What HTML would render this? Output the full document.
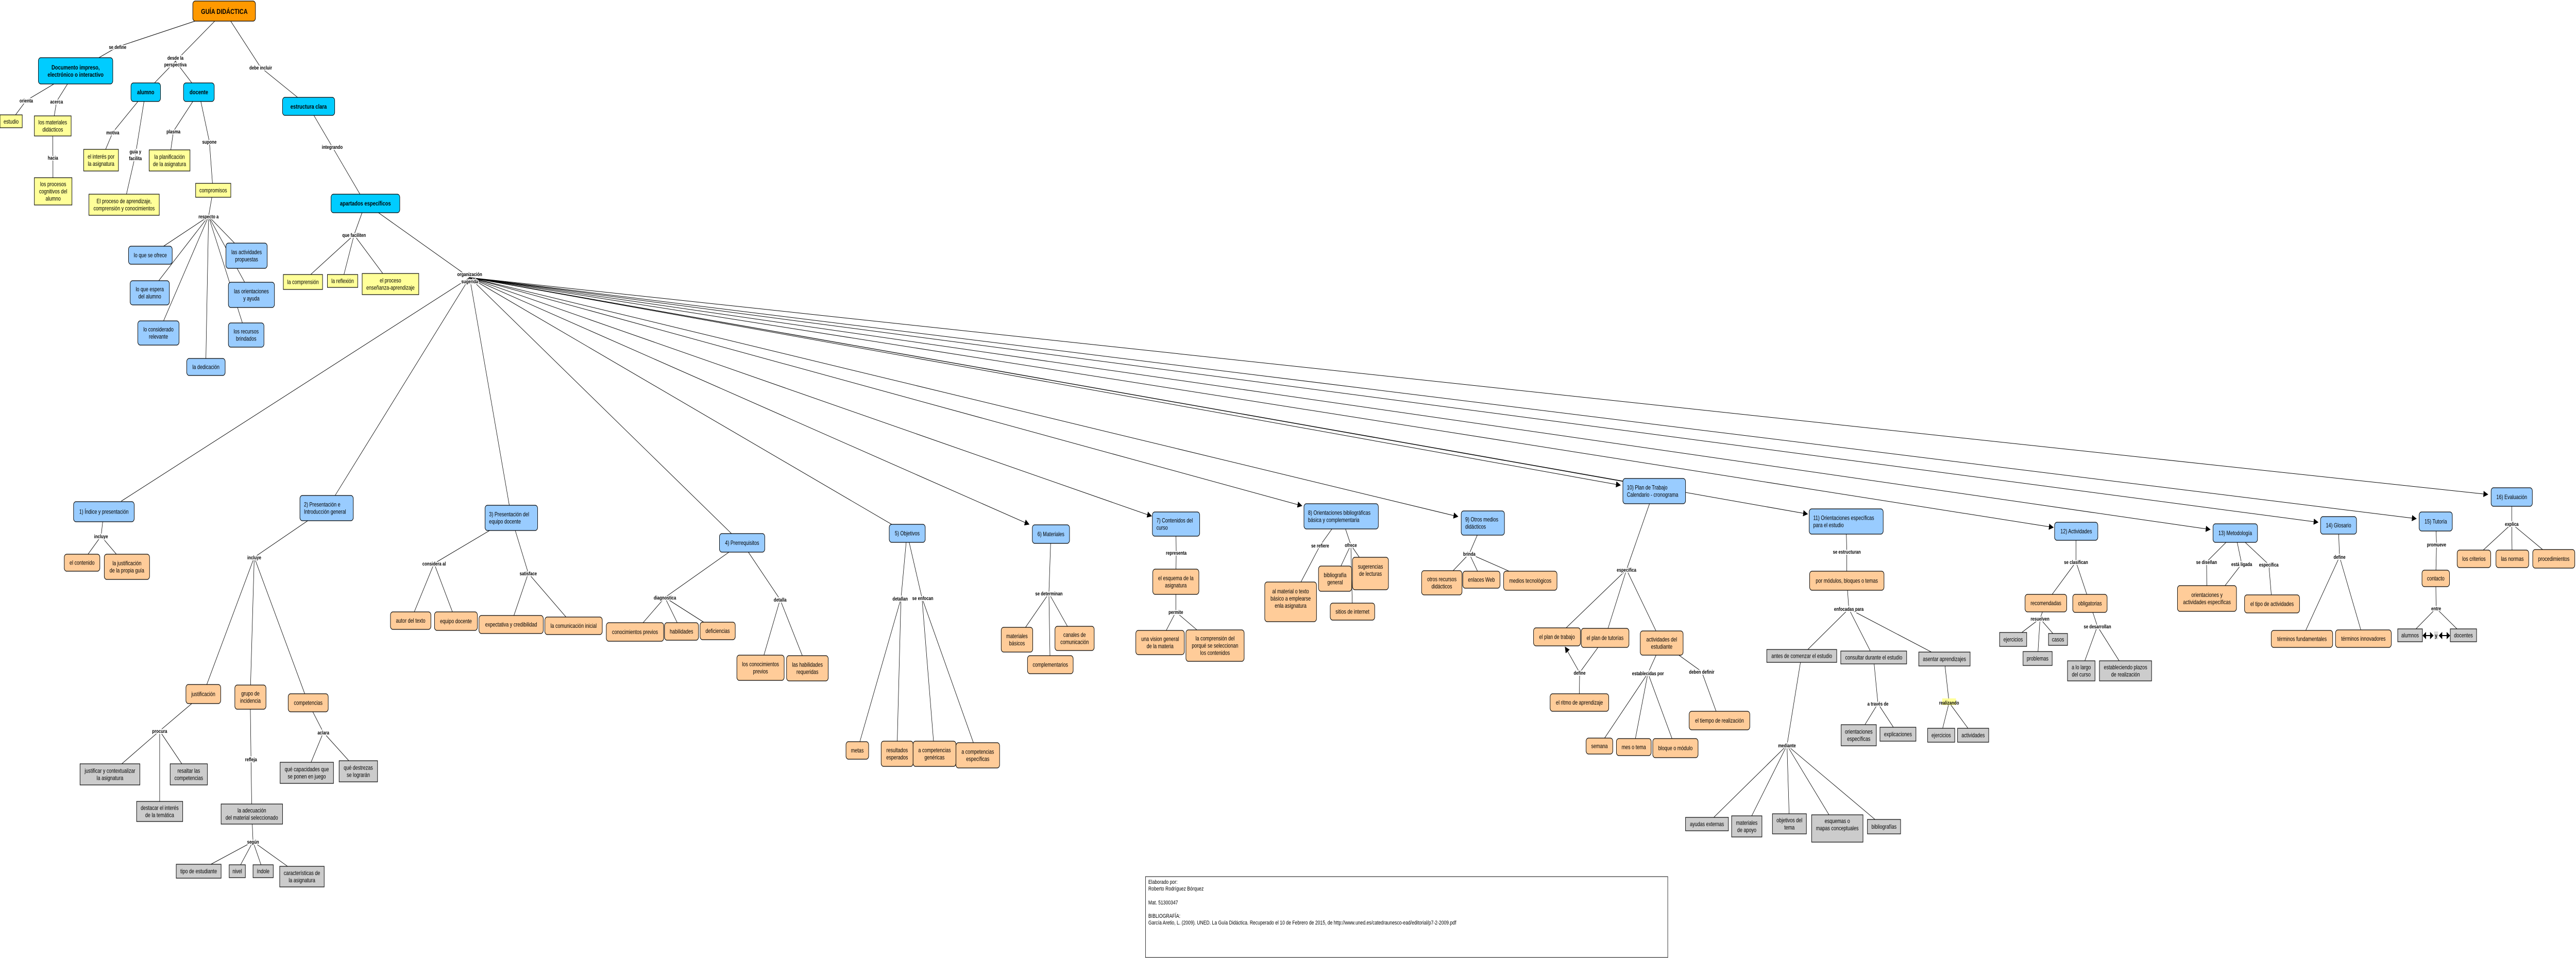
<!DOCTYPE html>
<html><head><meta charset="utf-8"><style>
html,body{margin:0;padding:0;background:#fff;overflow:hidden;width:100%;height:100%;}
svg{display:block;position:absolute;left:0;top:0;width:100vw;height:100vh;font-family:"Liberation Sans",Arial,sans-serif;}
.e{stroke:#000;stroke-width:1;fill:none}
rect{stroke:#000;stroke-width:1.2}
.R{fill:#FF9900}.C{fill:#00CCFF}.B{fill:#99CCFF}.Y{fill:#FFFF99}.P{fill:#FFCC99}.G{fill:#CCCCCC}
text{font-size:11.5px;fill:#000}
.m{text-anchor:middle}
.b{font-weight:bold;font-size:12px}
.l{font-weight:bold;font-size:10px;text-anchor:middle;stroke:#fff;stroke-width:4px;paint-order:stroke;stroke-linejoin:round}
.c{font-size:11px}
</style></head><body>
<svg viewBox="0 0 6373 1860" preserveAspectRatio="none" xmlns="http://www.w3.org/2000/svg">
<defs><marker id="a" markerWidth="12" markerHeight="12" refX="11" refY="6" orient="auto" markerUnits="userSpaceOnUse"><path d="M0,0 L12,6 L0,12 z" fill="#000"/></marker></defs>

<path class="e" d="M555,22 L291,91 L187,138 M555,22 L434,119 L360,179 M434,119 L492,179 M555,22 L645,131 L763,206
M187,138 L65,195 L27,235 M187,138 L140,197 L130,245 L131,306 L131,371
M360,179 L279,257 L250,311 M360,179 L335,301 L307,397 M492,179 L429,255 L419,311
M492,179 L518,275 L527,370 L516,420 L372,495 M516,420 L370,568 M516,420 L392,646 M516,420 L509,712 M516,420 L610,496 M516,420 L622,572 M516,420 L609,650
M763,206 L822,285 L904,395 L876,456 L749,547 M876,456 L847,545 M876,456 L966,551 M904,395 L1162,539
M1162,539 L300,973 M1162,539 L829,962 M1162,539 L1260,981 M1162,539 L1811,1037 M1162,539 L2206,1018
M257,993 L250,1041 L203,1092 M250,1041 L314,1100
M808,986 L629,1082 L503,1347 M629,1082 L619,1353 M629,1082 L762,1364
M503,1347 L395,1419 L272,1503 M395,1419 L467,1503 M395,1419 L395,1575
M619,1353 L621,1474 L623,1580 L626,1634 L491,1691 M626,1634 L587,1691 M626,1634 L651,1691 M626,1634 L747,1702
M762,1364 L800,1422 L759,1500 M800,1422 L886,1497
M1265,1005 L1074,1094 L1016,1205 M1074,1094 L1128,1206 M1265,1005 L1307,1113 L1264,1212 M1307,1113 L1419,1215
M1836,1054 L1645,1160 L1571,1227 M1645,1160 L1686,1226 M1645,1160 L1775,1225 M1836,1054 L1930,1164 L1881,1296 M1930,1164 L1997,1297
M2244,1035 L2229,1162 L2121,1457 M2229,1162 L2219,1463 M2244,1035 L2281,1161 L2312,1463 M2281,1161 L2419,1466
M2600,1037 L2595,1152 L2516,1242 M2595,1152 L2658,1240 M2595,1152 L2598,1290
M2909,1017 L2910,1073 L2909,1129 L2909,1188 L2870,1247 M2909,1188 L3006,1253
M3318,1002 L3266,1059 L3193,1168 M3318,1002 L3342,1058 L3303,1123 M3342,1058 L3390,1113 M3342,1058 L3346,1187
M3668,1015 L3635,1075 L3567,1131 M3635,1075 L3665,1125 M3635,1075 L3786,1127
M4092,953 L4024,1106 L3852,1236 M4024,1106 L3971,1238 M4024,1106 L4111,1248
M3971,1238 L3908,1306 L3907,1364
M4111,1248 L4077,1307 L3957,1448 M4077,1307 L4042,1450 M4077,1307 L4145,1452 M4111,1248 L4210,1304 L4254,1399
M4567,1012 L4569,1071 L4569,1127 L4574,1182 L4457,1273 M4574,1182 L4635,1276 M4574,1182 L4810,1279
M4457,1273 L4421,1447 L4223,1600 M4421,1447 L4321,1604 M4421,1447 L4427,1599 M4421,1447 L4545,1608 M4421,1447 L4660,1605
M4635,1276 L4646,1366 L4598,1427 M4646,1366 L4695,1425 M4810,1279 L4822,1364 L4802,1427 M4822,1364 L4881,1427
M5136,1031 L5136,1091 L5061,1171 M5136,1091 L5170,1171 M5061,1171 L5047,1201 L4980,1241 M5047,1201 L5091,1241 M5047,1201 L5041,1278
M5170,1171 L5189,1216 L5149,1302 M5189,1216 L5258,1302
M5530,1035 L5459,1091 L5460,1162 M5530,1035 L5546,1095 L5480,1162 M5530,1035 L5613,1096 L5621,1172
M5785,1020 L5788,1081 L5695,1240 M5788,1081 L5847,1240
M6026,1012 L6028,1057 L6026,1123 L6027,1181 L5962,1233 M6027,1181 L6094,1233
M6214,965 L6214,1017 L6120,1085 M6214,1017 L6215,1085 M6214,1017 L6318,1085"/>
<g class="e" marker-end="url(#a)">
<line x1="1162" y1="539" x2="2546" y2="1018"/>
<line x1="1162" y1="539" x2="2849" y2="1002"/>
<line x1="1162" y1="539" x2="3221" y2="982"/>
<line x1="1162" y1="539" x2="3607" y2="1003"/>
<line x1="1162" y1="539" x2="4009" y2="942"/>
<line x1="1162" y1="539" x2="4472" y2="998"/>
<line x1="1162" y1="539" x2="5080" y2="1024"/>
<line x1="1162" y1="539" x2="5468" y2="1028"/>
<line x1="1162" y1="539" x2="5735" y2="1014"/>
<line x1="1162" y1="539" x2="5978" y2="1007"/>
<line x1="1162" y1="539" x2="6155" y2="960"/>
<line x1="3908" y1="1306" x2="3872" y2="1256"/>
</g>
<line class="e" x1="1162" y1="539" x2="4015" y2="934"/>

<rect class="R" x="477" y="2" width="155" height="39" rx="6"/><text class="m" x="555" y="27" style="font-weight:bold;font-size:14px">GUÍA DIDÁCTICA</text>
<rect class="C" x="95" y="112" width="184" height="51" rx="6"/><text class="m b" x="187" y="135">Documento impreso,</text><text class="m b" x="187" y="149">electrónico o interactivo</text>
<rect class="C" x="324" y="161" width="73" height="36" rx="6"/><text class="m b" x="360.5" y="183">alumno</text>
<rect class="C" x="454" y="161" width="76" height="36" rx="6"/><text class="m b" x="492" y="183">docente</text>
<rect class="C" x="699" y="189" width="129" height="35" rx="6"/><text class="m b" x="763.5" y="211">estructura clara</text>
<rect class="Y" x="0" y="223" width="55" height="25"/><text class="m" x="27.5" y="240">estudio</text>
<rect class="Y" x="85" y="225" width="91" height="39"/><text class="m" x="130.5" y="241.5">los materiales</text><text class="m" x="130.5" y="255.5">didácticos</text>
<rect class="Y" x="85" y="345" width="93" height="53"/><text class="m" x="131.5" y="361.5">los procesos</text><text class="m" x="131.5" y="375.5">cognitivos del</text><text class="m" x="131.5" y="389.5">alumno</text>
<rect class="Y" x="207" y="290" width="86" height="42"/><text class="m" x="250" y="308">el interés por</text><text class="m" x="250" y="322">la asignatura</text>
<rect class="Y" x="220" y="377" width="174" height="41"/><text class="m" x="307" y="394.5">El proceso de aprendizaje,</text><text class="m" x="307" y="408.5">comprensión y conocimientos</text>
<rect class="Y" x="369" y="291" width="101" height="41"/><text class="m" x="419.5" y="308.5">la planificación</text><text class="m" x="419.5" y="322.5">de la asignatura</text>
<rect class="Y" x="484" y="356" width="87" height="27"/><text class="m" x="527.5" y="373.5">compromisos</text>
<rect class="C" x="819" y="377" width="170" height="36" rx="6"/><text class="m b" x="904" y="399">apartados específicos</text>
<rect class="B" x="318" y="478" width="108" height="35" rx="6"/><text class="m" x="372" y="499.5">lo que se ofrece</text>
<rect class="B" x="322" y="545" width="97" height="47" rx="6"/><text class="m" x="370.5" y="565.5">lo que espera</text><text class="m" x="370.5" y="579.5">del alumno</text>
<rect class="B" x="341" y="623" width="102" height="47" rx="6"/><text class="m" x="392" y="643.5">lo considerado</text><text class="m" x="392" y="657.5">relevante</text>
<rect class="B" x="462" y="696" width="95" height="33" rx="6"/><text class="m" x="509.5" y="716.5">la dedicación</text>
<rect class="B" x="559" y="472" width="102" height="49" rx="6"/><text class="m" x="610" y="493.5">las actividades</text><text class="m" x="610" y="507.5">propuestas</text>
<rect class="B" x="565" y="548" width="114" height="49" rx="6"/><text class="m" x="622" y="569.5">las orientaciones</text><text class="m" x="622" y="583.5">y ayuda</text>
<rect class="B" x="565" y="627" width="88" height="47" rx="6"/><text class="m" x="609" y="647.5">los recursos</text><text class="m" x="609" y="661.5">brindados</text>
<rect class="Y" x="701" y="533" width="97" height="29"/><text class="m" x="749.5" y="551.5">la comprensión</text>
<rect class="Y" x="810" y="533" width="75" height="25"/><text class="m" x="847.5" y="549.5">la reflexión</text>
<rect class="Y" x="896" y="531" width="140" height="41"/><text class="m" x="966" y="548.5">el proceso</text><text class="m" x="966" y="562.5">enseñanza-aprendizaje</text>

<rect class="B" x="182" y="974" width="150" height="39" rx="6"/><text class="m" x="257" y="997.5">1) Índice y presentación</text>
<rect class="P" x="159" y="1076" width="88" height="33" rx="6"/><text class="m" x="203" y="1096.5">el contenido</text>
<rect class="P" x="258" y="1076" width="112" height="49" rx="6"/><text class="m" x="314" y="1097.5">la justificación</text><text class="m" x="314" y="1111.5">de la propia guía</text>
<rect class="B" x="742" y="962" width="132" height="49" rx="6"/><text x="752" y="983.5">2) Presentación e</text><text x="752" y="997.5">Introducción general</text>
<rect class="P" x="460" y="1329" width="86" height="37" rx="6"/><text class="m" x="503" y="1351.5">justificación</text>
<rect class="P" x="581" y="1330" width="77" height="47" rx="6"/><text class="m" x="619.5" y="1350.5">grupo de</text><text class="m" x="619.5" y="1364.5">incidencia</text>
<rect class="P" x="713" y="1347" width="99" height="35" rx="6"/><text class="m" x="762.5" y="1368.5">competencias</text>
<rect class="G" x="198" y="1483" width="148" height="41"/><text class="m" x="272" y="1500.5">justificar y contextualizar</text><text class="m" x="272" y="1514.5">la asignatura</text>
<rect class="G" x="421" y="1483" width="92" height="41"/><text class="m" x="467" y="1500.5">resaltar las</text><text class="m" x="467" y="1514.5">competencias</text>
<rect class="G" x="338" y="1556" width="114" height="39"/><text class="m" x="395" y="1572.5">destacar el interés</text><text class="m" x="395" y="1586.5">de la temática</text>
<rect class="G" x="547" y="1561" width="152" height="39"/><text class="m" x="623" y="1577.5">la adecuación</text><text class="m" x="623" y="1591.5">del material seleccionado</text>
<rect class="G" x="436" y="1678" width="111" height="27"/><text class="m" x="491.5" y="1695.5">tipo de estudiante</text>
<rect class="G" x="567" y="1679" width="40" height="25"/><text class="m" x="587" y="1695.5">nivel</text>
<rect class="G" x="626" y="1679" width="50" height="25"/><text class="m" x="651" y="1695.5">índole</text>
<rect class="G" x="692" y="1682" width="110" height="40"/><text class="m" x="747" y="1699">características de</text><text class="m" x="747" y="1713">la asignatura</text>
<rect class="G" x="693" y="1480" width="132" height="41"/><text class="m" x="759" y="1497.5">qué capacidades que</text><text class="m" x="759" y="1511.5">se ponen en juego</text>
<rect class="G" x="839" y="1477" width="95" height="41"/><text class="m" x="886.5" y="1494.5">qué destrezas</text><text class="m" x="886.5" y="1508.5">se lograrán</text>

<rect class="B" x="1200" y="981" width="130" height="49" rx="6"/><text x="1210" y="1002.5">3) Presentación del</text><text x="1210" y="1016.5">equipo docente</text>
<rect class="P" x="966" y="1188" width="100" height="34" rx="6"/><text class="m" x="1016" y="1209">autor del texto</text>
<rect class="P" x="1075" y="1188" width="106" height="36" rx="6"/><text class="m" x="1128" y="1210">equipo docente</text>
<rect class="P" x="1185" y="1195" width="159" height="35" rx="6"/><text class="m" x="1264.5" y="1216.5">expectativa y credibilidad</text>
<rect class="P" x="1348" y="1198" width="142" height="34" rx="6"/><text class="m" x="1419" y="1219">la comunicación inicial</text>
<rect class="B" x="1780" y="1036" width="112" height="36" rx="6"/><text class="m" x="1836" y="1058">4) Prerrequisitos</text>
<rect class="P" x="1500" y="1209" width="142" height="36" rx="6"/><text class="m" x="1571" y="1231">conocimientos previos</text>
<rect class="P" x="1644" y="1209" width="84" height="34" rx="6"/><text class="m" x="1686" y="1230">habilidades</text>
<rect class="P" x="1732" y="1208" width="87" height="34" rx="6"/><text class="m" x="1775.5" y="1229">deficiencias</text>
<rect class="P" x="1823" y="1272" width="117" height="49" rx="6"/><text class="m" x="1881.5" y="1293.5">los conocimientos</text><text class="m" x="1881.5" y="1307.5">previos</text>
<rect class="P" x="1946" y="1273" width="103" height="49" rx="6"/><text class="m" x="1997.5" y="1294.5">las habilidades</text><text class="m" x="1997.5" y="1308.5">requeridas</text>
<rect class="B" x="2200" y="1018" width="89" height="35" rx="6"/><text class="m" x="2244.5" y="1039.5">5) Objetivos</text>
<rect class="P" x="2093" y="1440" width="56" height="34" rx="6"/><text class="m" x="2121" y="1461">metas</text>
<rect class="P" x="2180" y="1439" width="79" height="49" rx="6"/><text class="m" x="2219.5" y="1460.5">resultados</text><text class="m" x="2219.5" y="1474.5">esperados</text>
<rect class="P" x="2259" y="1439" width="106" height="49" rx="6"/><text class="m" x="2312" y="1460.5">a competencias</text><text class="m" x="2312" y="1474.5">genéricas</text>
<rect class="P" x="2365" y="1442" width="108" height="49" rx="6"/><text class="m" x="2419" y="1463.5">a competencias</text><text class="m" x="2419" y="1477.5">específicas</text>

<rect class="B" x="2554" y="1019" width="92" height="36" rx="6"/><text class="m" x="2600" y="1041">6) Materiales</text>
<rect class="P" x="2477" y="1218" width="78" height="48" rx="6"/><text class="m" x="2516" y="1239">materiales</text><text class="m" x="2516" y="1253">básicos</text>
<rect class="P" x="2610" y="1216" width="97" height="47" rx="6"/><text class="m" x="2658.5" y="1236.5">canales de</text><text class="m" x="2658.5" y="1250.5">comunicación</text>
<rect class="P" x="2542" y="1273" width="113" height="35" rx="6"/><text class="m" x="2598.5" y="1294.5">complementarios</text>
<rect class="B" x="2851" y="994" width="117" height="47" rx="6"/><text x="2861" y="1014.5">7) Contenidos del</text><text x="2861" y="1028.5">curso</text>
<rect class="P" x="2852" y="1105" width="114" height="49" rx="6"/><text class="m" x="2909" y="1126.5">el esquema de la</text><text class="m" x="2909" y="1140.5">asignatura</text>
<rect class="P" x="2810" y="1224" width="120" height="47" rx="6"/><text class="m" x="2870" y="1244.5">una vision general</text><text class="m" x="2870" y="1258.5">de la materia</text>
<rect class="P" x="2934" y="1223" width="144" height="61" rx="6"/><text class="m" x="3006" y="1243.5">la comprensión del</text><text class="m" x="3006" y="1257.5">porqué se seleccionan</text><text class="m" x="3006" y="1271.5">los contenidos</text>
<rect class="B" x="3226" y="978" width="184" height="49" rx="6"/><text x="3236" y="999.5">8) Orientaciones bibliográficas</text><text x="3236" y="1013.5">básica y complementaria</text>
<rect class="P" x="3129" y="1130" width="128" height="77" rx="6"/><text class="m" x="3193" y="1152">al material o texto</text><text class="m" x="3193" y="1166">básico a emplearse</text><text class="m" x="3193" y="1180">enla asignatura</text>
<rect class="P" x="3262" y="1099" width="82" height="49" rx="6"/><text class="m" x="3303" y="1120.5">bibliografía</text><text class="m" x="3303" y="1134.5">general</text>
<rect class="P" x="3346" y="1082" width="89" height="63" rx="6"/><text class="m" x="3390.5" y="1104">sugerencias</text><text class="m" x="3390.5" y="1118">de lecturas</text>
<rect class="P" x="3291" y="1171" width="110" height="33" rx="6"/><text class="m" x="3346" y="1191.5">sitios de internet</text>
<rect class="B" x="3615" y="992" width="107" height="47" rx="6"/><text x="3625" y="1012.5">9) Otros medios</text><text x="3625" y="1026.5">didácticos</text>
<rect class="P" x="3517" y="1108" width="100" height="47" rx="6"/><text class="m" x="3567" y="1128.5">otros recursos</text><text class="m" x="3567" y="1142.5">didácticos</text>
<rect class="P" x="3619" y="1109" width="92" height="33" rx="6"/><text class="m" x="3665" y="1129.5">enlaces Web</text>
<rect class="P" x="3720" y="1109" width="132" height="37" rx="6"/><text class="m" x="3786" y="1131.5">medios tecnológicos</text>

<rect class="B" x="4015" y="929" width="155" height="49" rx="6"/><text x="4025" y="950.5">10) Plan de Trabajo</text><text x="4025" y="964.5">Calendario - cronograma</text>
<rect class="P" x="3794" y="1219" width="116" height="35" rx="6"/><text class="m" x="3852" y="1240.5">el plan de trabajo</text>
<rect class="P" x="3912" y="1220" width="118" height="37" rx="6"/><text class="m" x="3971" y="1242.5">el plan de tutorías</text>
<rect class="P" x="4058" y="1225" width="106" height="47" rx="6"/><text class="m" x="4111" y="1245.5">actividades del</text><text class="m" x="4111" y="1259.5">estudiante</text>
<rect class="P" x="3835" y="1347" width="145" height="34" rx="6"/><text class="m" x="3907.5" y="1368">el ritmo de aprendizaje</text>
<rect class="P" x="3924" y="1433" width="66" height="31" rx="6"/><text class="m" x="3957" y="1452.5">semana</text>
<rect class="P" x="3999" y="1434" width="86" height="33" rx="6"/><text class="m" x="4042" y="1454.5">mes o tema</text>
<rect class="P" x="4089" y="1434" width="112" height="37" rx="6"/><text class="m" x="4145" y="1456.5">bloque o módulo</text>
<rect class="P" x="4179" y="1381" width="150" height="36" rx="6"/><text class="m" x="4254" y="1403">el tiempo de realización</text>
<rect class="B" x="4476" y="988" width="183" height="49" rx="6"/><text x="4486" y="1009.5">11) Orientaciones específicas</text><text x="4486" y="1023.5">para el estudio</text>
<rect class="P" x="4477" y="1109" width="184" height="37" rx="6"/><text class="m" x="4569" y="1131.5">por módulos, bloques o temas</text>
<rect class="G" x="4371" y="1261" width="173" height="25"/><text class="m" x="4457.5" y="1277.5">antes de comenzar el estudio</text>
<rect class="G" x="4554" y="1264" width="163" height="25"/><text class="m" x="4635.5" y="1280.5">consultar durante el estudio</text>
<rect class="G" x="4747" y="1266" width="127" height="27"/><text class="m" x="4810.5" y="1283.5">asentar aprendizajes</text>
<rect class="G" x="4170" y="1587" width="106" height="26"/><text class="m" x="4223" y="1604">ayudas externas</text>
<rect class="G" x="4284" y="1584" width="75" height="41"/><text class="m" x="4321.5" y="1601.5">materiales</text><text class="m" x="4321.5" y="1615.5">de apoyo</text>
<rect class="G" x="4385" y="1580" width="84" height="39"/><text class="m" x="4427" y="1596.5">objetivos del</text><text class="m" x="4427" y="1610.5">tema</text>
<rect class="G" x="4482" y="1582" width="127" height="53"/><text class="m" x="4545.5" y="1598">esquemas o</text><text class="m" x="4545.5" y="1612">mapas conceptuales</text>
<rect class="G" x="4620" y="1591" width="82" height="28"/><text class="m" x="4661" y="1609">bibliografías</text>
<rect class="G" x="4555" y="1407" width="87" height="41"/><text class="m" x="4598.5" y="1424.5">orientaciones</text><text class="m" x="4598.5" y="1438.5">específicas</text>
<rect class="G" x="4651" y="1412" width="89" height="27"/><text class="m" x="4695.5" y="1429.5">explicaciones</text>
<rect class="G" x="4769" y="1414" width="67" height="27"/><text class="m" x="4802.5" y="1431.5">ejercicios</text>
<rect class="G" x="4843" y="1414" width="77" height="27"/><text class="m" x="4881.5" y="1431.5">actividades</text>

<rect class="B" x="5083" y="1014" width="107" height="35" rx="6"/><text class="m" x="5136.5" y="1035.5">12) Actividades</text>
<rect class="P" x="5010" y="1154" width="103" height="34" rx="6"/><text class="m" x="5061.5" y="1175">recomendadas</text>
<rect class="P" x="5128" y="1154" width="85" height="35" rx="6"/><text class="m" x="5170.5" y="1175.5">obligatorias</text>
<rect class="G" x="4947" y="1228" width="67" height="27"/><text class="m" x="4980.5" y="1245.5">ejercicios</text>
<rect class="G" x="5068" y="1230" width="47" height="23"/><text class="m" x="5091.5" y="1245.5">casos</text>
<rect class="G" x="5005" y="1265" width="72" height="27"/><text class="m" x="5041" y="1282.5">problemas</text>
<rect class="G" x="5115" y="1283" width="68" height="39"/><text class="m" x="5149" y="1299.5">a lo largo</text><text class="m" x="5149" y="1313.5">del curso</text>
<rect class="G" x="5194" y="1283" width="129" height="39"/><text class="m" x="5258.5" y="1299.5">estableciendo plazos</text><text class="m" x="5258.5" y="1313.5">de realización</text>
<rect class="B" x="5475" y="1017" width="110" height="36" rx="6"/><text class="m" x="5530" y="1039">13) Metodología</text>
<rect class="P" x="5387" y="1137" width="146" height="50" rx="6"/><text class="m" x="5460" y="1159">orientaciones y</text><text class="m" x="5460" y="1173">actividades específicas</text>
<rect class="P" x="5553" y="1155" width="136" height="35" rx="6"/><text class="m" x="5621" y="1176.5">el tipo de actividades</text>
<rect class="B" x="5741" y="1003" width="89" height="34" rx="6"/><text class="m" x="5785.5" y="1024">14) Glosario</text>
<rect class="P" x="5619" y="1224" width="152" height="33" rx="6"/><text class="m" x="5695" y="1244.5">términos fundamentales</text>
<rect class="P" x="5778" y="1223" width="138" height="34" rx="6"/><text class="m" x="5847" y="1244">términos innovadores</text>
<rect class="B" x="5985" y="994" width="82" height="37" rx="6"/><text class="m" x="6026" y="1016.5">15) Tutoría</text>
<rect class="P" x="5992" y="1107" width="68" height="32" rx="6"/><text class="m" x="6026" y="1127">contacto</text>
<rect class="G" x="5932" y="1221" width="61" height="25"/><text class="m" x="5962.5" y="1237.5">alumnos</text>
<rect class="G" x="6062" y="1221" width="65" height="25"/><text class="m" x="6094.5" y="1237.5">docentes</text>
<rect x="6022" y="1226" width="10" height="15" style="fill:#ddd;stroke:none"/>
<text class="m" x="6027" y="1238" style="font-weight:bold;font-size:11px">y</text>
<path d="M5995,1234 L6001,1229 L6001,1239 z M6019,1234 L6013,1229 L6013,1239 z M6035,1234 L6041,1229 L6041,1239 z M6060,1234 L6054,1229 L6054,1239 z M6000,1234 H6014 M6040,1234 H6055" stroke="#000" stroke-width="2" fill="#000"/>
<rect class="B" x="6163" y="947" width="102" height="36" rx="6"/><text class="m" x="6214" y="969">16) Evaluación</text>
<rect class="P" x="6079" y="1068" width="83" height="34" rx="6"/><text class="m" x="6120.5" y="1089">los criterios</text>
<rect class="P" x="6175" y="1068" width="81" height="34" rx="6"/><text class="m" x="6215.5" y="1089">las normas</text>
<rect class="P" x="6266" y="1067" width="104" height="36" rx="6"/><text class="m" x="6318" y="1089">procedimientos</text>

<g>
<text class="l" x="291" y="95">se define</text>
<text class="l" x="434" y="116">desde la</text><text class="l" x="434" y="129">perspectiva</text>
<text class="l" x="645" y="135">debe incluir</text>
<text class="l" x="65" y="199">orienta</text>
<text class="l" x="140" y="201">acerca</text>
<text class="l" x="131" y="310">hacia</text>
<text class="l" x="279" y="261">motiva</text>
<text class="l" x="335" y="298">guía y</text><text class="l" x="335" y="311">facilita</text>
<text class="l" x="429" y="259">plasma</text>
<text class="l" x="518" y="279">supone</text>
<text class="l" x="822" y="289">integrando</text>
<text class="l" x="516" y="424">respecto a</text>
<text class="l" x="876" y="460">que faciliten</text>
<text class="l" x="1162" y="536">organización</text><text class="l" x="1162" y="550">sugerida</text>
<text class="l" x="250" y="1045">incluye</text>
<text class="l" x="629" y="1086">incluye</text>
<text class="l" x="395" y="1423">procura</text>
<text class="l" x="621" y="1478">refleja</text>
<text class="l" x="626" y="1638">según</text>
<text class="l" x="800" y="1426">aclara</text>
<text class="l" x="1074" y="1098">considera al</text>
<text class="l" x="1307" y="1117">satisface</text>
<text class="l" x="1645" y="1164">diagnostica</text>
<text class="l" x="1930" y="1168">detalla</text>
<text class="l" x="2227" y="1166">detallan</text>
<text class="l" x="2283" y="1165">se enfocan</text>
<text class="l" x="2595" y="1156">se determinan</text>
<text class="l" x="2910" y="1077">representa</text>
<text class="l" x="2909" y="1192">permite</text>
<text class="l" x="3266" y="1063">se refiere</text>
<text class="l" x="3342" y="1062">ofrece</text>
<text class="l" x="3635" y="1079">brinda</text>
<text class="l" x="4024" y="1110">especifica</text>
<text class="l" x="3908" y="1310">define</text>
<text class="l" x="4077" y="1311">establecidas por</text>
<text class="l" x="4210" y="1308">deben definir</text>
<text class="l" x="4569" y="1075">se estructuran</text>
<text class="l" x="4574" y="1186">enfocadas para</text>
<rect x="4805" y="1356" width="34" height="13" style="fill:#FFFF99;stroke:none"/>
<text class="l" x="4822" y="1368" style="stroke:none">realizando</text>
<text class="l" x="4421" y="1451">mediante</text>
<text class="l" x="4646" y="1370">a través de</text>
<text class="l" x="5136" y="1095">se clasifican</text>
<text class="l" x="5047" y="1205">resuelven</text>
<text class="l" x="5189" y="1220">se desarrollan</text>
<text class="l" x="5459" y="1095">se diseñan</text>
<text class="l" x="5546" y="1099">está ligada</text>
<text class="l" x="5613" y="1100">específica</text>
<text class="l" x="5788" y="1085">define</text>
<text class="l" x="6028" y="1061">promueve</text>
<text class="l" x="6027" y="1185">entre</text>
<text class="l" x="6214" y="1021">explica</text>
</g>

<rect x="2834" y="1702" width="1292" height="157" style="fill:#fff;stroke:#000;stroke-width:1"/>
<text class="c" x="2841" y="1716">Elaborado por:</text>
<text class="c" x="2841" y="1729">Roberto Rodríguez Bórquez</text>
<text class="c" x="2841" y="1756">Mat. 51300347</text>
<text class="c" x="2841" y="1782">BIBLIOGRAFÍA:</text>
<text class="c" x="2841" y="1795">García Aretio, L. (2009). UNED. La Guía Didáctica. Recuperado el 10 de Febrero de 2015, de http://www.uned.es/catedraunesco-ead/editorial/p7-2-2009.pdf</text>
</svg>
</body></html>
